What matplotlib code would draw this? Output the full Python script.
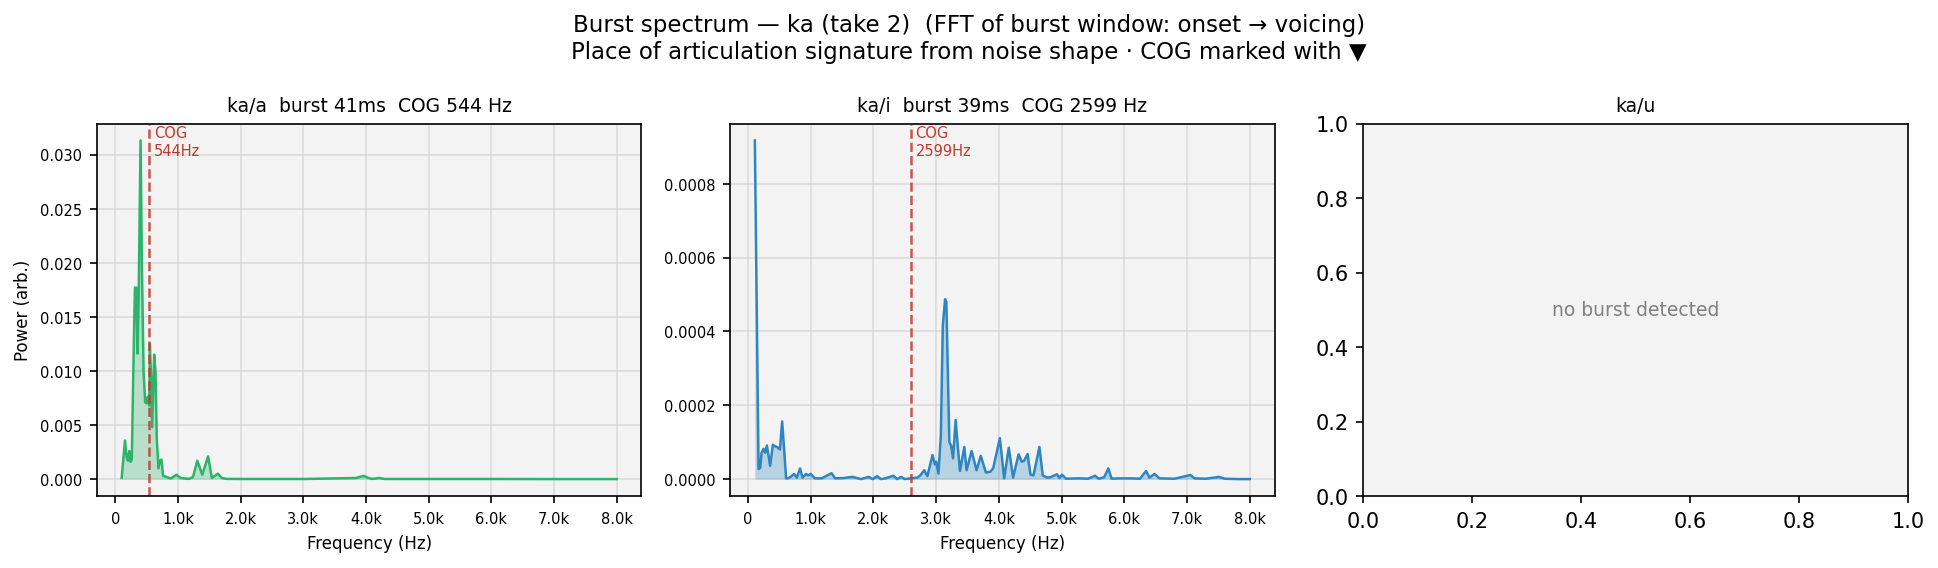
import matplotlib
matplotlib.use("Agg")
import matplotlib.pyplot as plt
from matplotlib.ticker import FuncFormatter

# ---- data ----
panel_titles = ["ka/a  burst 41ms  COG 544 Hz", "ka/i  burst 39ms  COG 2599 Hz", "ka/u"]
cog_hz = [544, 2599]

freq_a = [100, 153, 180, 201, 222, 243, 262, 286, 312, 333, 354, 372, 402, 425, 450, 476,
          498, 518, 540, 550, 566, 587, 619, 640, 661, 688, 709, 735, 762, 815, 884, 974,
          1042, 1175, 1240, 1307, 1387, 1480, 1540, 1636, 1700, 1773, 2000, 3000, 3840,
          3963, 4040, 4100, 4215, 4300, 5000, 6000, 7000, 8000]
power_a = [0.0001, 0.00357, 0.0020, 0.0017, 0.0026, 0.0016, 0.0018, 0.0099, 0.0177, 0.0177,
           0.0116, 0.0170, 0.0313, 0.0190, 0.0099, 0.0071, 0.0070, 0.0076, 0.0068, 0.0125,
           0.0099, 0.0048, 0.0115, 0.0099, 0.0037, 0.0010, 0.0017, 0.0018, 0.0003, 0.0002,
           0.00005, 0.0004, 0.0001, 0.00002, 0.0002, 0.0017, 0.0004, 0.0021, 0.0001, 0.0005,
           0.0001, 0.00002, 0.00001, 0.00001, 0.0001, 0.0003, 0.0001, 0.00002, 0.0001,
           0.00001, 0.00001, 0.00001, 0.0, 0.0]

freq_i = [110, 169, 195, 217, 249, 275, 302, 354, 397, 434, 471, 510, 545, 577, 608, 650,
          688, 735, 780, 831, 870, 926, 960, 1000, 1070, 1175, 1333, 1390, 1530, 1667, 1800,
          1926, 1990, 2058, 2120, 2190, 2317, 2380, 2444, 2500, 2598, 2700, 2747, 2810, 2860,
          2942, 2980, 3000, 3037, 3075, 3106, 3142, 3163, 3190, 3211, 3240, 3269, 3311, 3343,
          3380, 3449, 3485, 3565, 3644, 3712, 3792, 3866, 3910, 4016, 4084, 4158, 4226, 4314,
          4364, 4405, 4457, 4504, 4552, 4646, 4699, 4768, 4820, 4926, 4965, 5005, 5070, 5280,
          5420, 5533, 5590, 5680, 5744, 5797, 5913, 6100, 6250, 6347, 6400, 6481, 6560, 6800,
          7052, 7120, 7300, 7508, 7600, 7800, 8000]
power_i = [0.000917, 0.000027, 0.000030, 0.000071, 0.000082, 0.000071, 0.000091, 0.000036,
           0.000093, 0.000089, 0.000086, 0.000080, 0.000156, 0.000080, 0.000002, 0.000003,
           0.000007, 0.000014, 0.000004, 0.000029, 0.000004, 0.000014, 0.000010, 0.000014,
           0.000002, 0.000002, 0.000016, 0.000002, 0.000003, 0.000006, 0.000000, 0.000006,
           0.000000, 0.000008, 0.000000, 0.000002, 0.000009, 0.000000, 0.000006, 0.000000,
           0.000002, 0.000004, 0.000010, 0.000024, 0.000008, 0.000065, 0.000040, 0.000047,
           0.000015, 0.000120, 0.000415, 0.000487, 0.000480, 0.000260, 0.000100, 0.000090,
           0.000056, 0.000160, 0.000092, 0.000022, 0.000087, 0.000024, 0.000076, 0.000024,
           0.000063, 0.000018, 0.000020, 0.000030, 0.000111, 0.000002, 0.000085, 0.000004,
           0.000067, 0.000047, 0.000050, 0.000068, 0.000012, 0.000010, 0.000087, 0.000010,
           0.000004, 0.000005, 0.000013, 0.000003, 0.000012, 0.000001, 0.000002, 0.000001,
           0.000009, 0.000001, 0.000005, 0.000029, 0.000001, 0.000002, 0.000002, 0.000001,
           0.000022, 0.000004, 0.000014, 0.000002, 0.000001, 0.000011, 0.000002, 0.000001,
           0.000006, 0.000001, 0.000000, 0.000000]

colors = ["#2eb36a", "#2e86c1"]
cog_color = "#c0392b"
face = "#f3f3f3"

fig, axes = plt.subplots(1, 3, figsize=(12.92, 3.793), dpi=150)
fig.suptitle("Burst spectrum \u2014 ka (take 2)  (FFT of burst window: onset \u2192 voicing)\n"
             "Place of articulation signature from noise shape \u00b7 COG marked with \u25bc",
             fontsize=11, y=0.975)

khz = FuncFormatter(lambda v, p: "0" if v == 0 else f"{v/1000:.1f}k")

series = [(freq_a, power_a), (freq_i, power_i)]
for k in range(2):
    ax = axes[k]
    f, pw = series[k]
    ax.set_facecolor(face)
    ax.plot(f, pw, color=colors[k], lw=1.2)
    ax.fill_between(f, pw, 0, color=colors[k], alpha=0.3, lw=0)
    ax.axvline(cog_hz[k], color=cog_color, ls="--", lw=1.2, alpha=0.85)
    ax.text(cog_hz[k] + 70, 0.995, f"COG\n{cog_hz[k]}Hz", transform=ax.get_xaxis_transform(),
            color=cog_color, fontsize=7, va="top", ha="left")
    ax.set_title(panel_titles[k], fontsize=9)
    ax.set_xlabel("Frequency (Hz)", fontsize=8)
    ax.xaxis.set_major_formatter(khz)
    ax.set_xticks([0, 1000, 2000, 3000, 4000, 5000, 6000, 7000, 8000])
    ax.tick_params(labelsize=7)
    ax.grid(True, color="#cccccc", alpha=0.6, lw=0.8)
    ax.set_axisbelow(True)
axes[0].set_ylabel("Power (arb.)", fontsize=8)

ax = axes[2]
ax.set_facecolor(face)
ax.set_title(panel_titles[2], fontsize=9)
ax.text(0.5, 0.5, "no burst detected", ha="center", va="center", color="gray",
        fontsize=9, transform=ax.transAxes)

fig.subplots_adjust(left=0.0500, right=0.9844, top=0.7812, bottom=0.1265, wspace=0.163)
fig.savefig("out.png", dpi=150)
